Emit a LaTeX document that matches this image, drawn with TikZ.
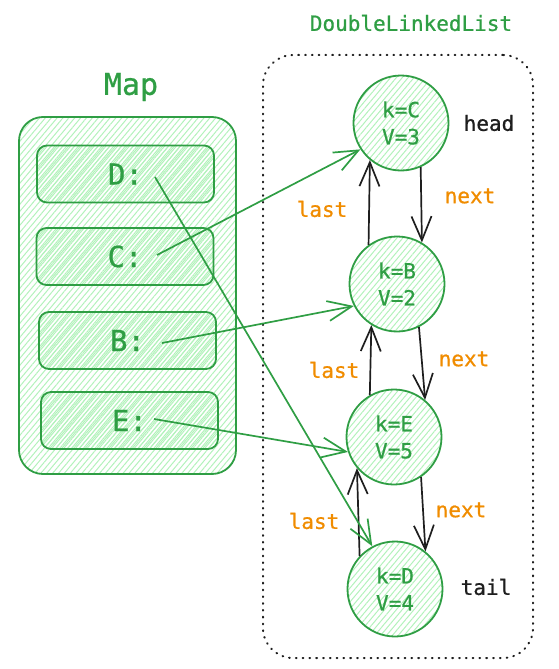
\documentclass[tikz,border=0pt]{standalone}
\usepackage{fontspec}
\newfontfamily\exfont{DejaVu Sans Mono}[FakeBold=0.8]
\usetikzlibrary{arrows.meta,patterns.meta,shapes.geometric}
\definecolor{exgreen}{HTML}{2F9E44}
\definecolor{exlight}{HTML}{B2F2BB}
\definecolor{exorange}{HTML}{F08C00}
\definecolor{exblack}{HTML}{1E1E1E}
\begin{document}
\begin{tikzpicture}[x=1pt,y=-1pt,
  every node/.style={font=\exfont},
  hatch/.style={pattern={Lines[angle=50,distance=4.5pt,line width=1pt]},pattern color=exlight},
  mapouter/.style={draw=exgreen,line width=1.8pt,rounded corners=24pt,hatch,minimum width=217pt,minimum height=357pt},
  keybox/.style={draw=exgreen,line width=1.8pt,rounded corners=10pt,pattern={Lines[angle=50,distance=3pt,line width=1pt]},pattern color=exlight,minimum width=177pt,minimum height=57pt,text=exgreen,font=\exfont\fontsize{29}{32}\selectfont},
  listnode/.style={circle,draw=exgreen,line width=1.8pt,hatch,minimum size=95pt,inner sep=0pt,align=center,text=exgreen,font=\exfont\fontsize{21}{27}\selectfont},
  frame/.style={draw=exblack,line width=2pt,line cap=round,dash pattern=on 0.8pt off 6pt,rounded corners=30pt,minimum width=270pt,minimum height=603pt},
  title/.style={text=exgreen},
  edgelabel/.style={text=exorange,font=\exfont\fontsize{21}{24}\selectfont},
  endlabel/.style={text=exblack,font=\exfont\fontsize{21}{24}\selectfont},
  link/.style={draw=exblack,line width=1.7pt,-{Straight Barb[length=24pt,width=20pt,line width=1.7pt]}},
  ptr/.style={draw=exgreen,line width=1.7pt,-{Straight Barb[length=24pt,width=20pt,line width=1.7pt]}}
]
\useasboundingbox (0,0) rectangle (558,669);
% titles
\node[title,font=\exfont\fontsize{30}{34}\selectfont] (maptitle) at (131,87) {Map};
\node[title,font=\exfont\fontsize{21}{26}\selectfont] (listtitle) at (411,23) {DoubleLinkedList};
% containers
\node[mapouter] (mapbox) at (127.5,295.5) {};
\node[frame] (listframe) at (398,356.5) {};
% map entries
\node[keybox] (kD) at (125.5,174) {D:};
\node[keybox] (kC) at (125,256.5) {C:};
\node[keybox] (kB) at (127.5,340.5) {B:};
\node[keybox] (kE) at (129.5,420.5) {E:};
\coordinate (pD) at (155,177);
\coordinate (pC) at (157,255);
\coordinate (pB) at (162,343);
\coordinate (pE) at (154,419);
% list nodes
\node[listnode] (nC) at (401,123) {k=C\\V=3};
\node[listnode] (nB) at (397,284) {k=B\\V=2};
\node[listnode] (nE) at (394,437) {k=E\\V=5};
\node[listnode] (nD) at (395,589) {k=D\\V=4};
% labels
\node[endlabel] (headl) at (489,123) {head};
\node[endlabel] (taill) at (486,587) {tail};
\node[edgelabel] (last1) at (322,209) {last};
\node[edgelabel] (next1) at (470,196) {next};
\node[edgelabel] (last2) at (334,370) {last};
\node[edgelabel] (next2) at (464,359) {next};
\node[edgelabel] (last3) at (314,521) {last};
\node[edgelabel] (next3) at (461,510) {next};
% links
\draw[link] (nC.-66) -- (nB.59);
\draw[link] (nB.126) -- (nC.-130);
\draw[link] (nB.-63) -- (nE.50);
\draw[link] (nE.120) -- (nB.-122);
\draw[link] (nE.-56) -- (nD.51);
\draw[link] (nD.137) -- (nE.-140);
% pointers
\draw[ptr] (pC) -- (nC.-147);
\draw[ptr] (pB) -- (nB.-153);
\draw[ptr] (pE) -- (nE.-162);
\draw[ptr] (pD) -- (nD.118);
\end{tikzpicture}
\end{document}
